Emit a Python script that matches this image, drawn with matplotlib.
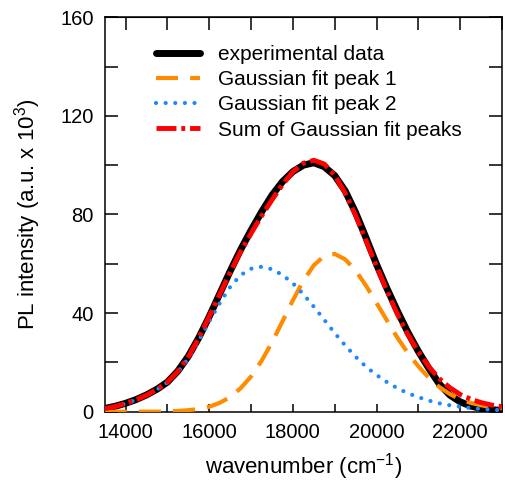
import numpy as np
import matplotlib
matplotlib.use("Agg")
import matplotlib.pyplot as plt
from matplotlib.ticker import MultipleLocator

plt.rcParams['font.family'] = ['Liberation Sans', 'DejaVu Sans']
plt.rcParams['mathtext.default'] = 'regular'

# wavenumber grid (cm^-1)
wavenumber = np.arange(13500, 23001, 250)

experimental = [1.3, 2.2, 3.4, 4.9, 6.8, 9.1, 12.0, 16.5, 22.5, 30.0,
                38.6, 47.8, 57.0, 65.7, 73.6, 81.0, 87.8, 93.3, 97.4, 100.0,
                101.0, 99.4, 95.8, 89.6, 80.8, 70.5, 59.8, 50.0, 40.8, 32.2,
                24.5, 17.6, 11.3, 6.8, 4.0, 2.3, 1.3, 0.8, 0.5]

peak1 = [0.0, 0.0, 0.0, 0.0, 0.0, 0.0, 0.1, 0.3, 0.6, 1.1,
         2.0, 3.6, 5.9, 9.5, 14.3, 20.6, 28.1, 36.6, 45.2, 53.1,
         59.4, 63.2, 64.0, 61.8, 57.3, 51.1, 44.1, 37.0, 30.0, 23.8,
         18.4, 13.8, 10.0, 7.2, 5.0, 3.6, 2.6, 1.9, 1.4]

peak2 = [1.2, 2.1, 3.3, 4.8, 6.7, 9.0, 11.9, 16.1, 21.6, 28.8,
         36.6, 44.0, 50.6, 55.4, 58.0, 58.8, 57.8, 55.5, 52.1, 47.7,
         42.6, 37.3, 31.9, 26.9, 22.3, 18.2, 14.9, 12.0, 9.5, 7.5,
         5.9, 4.5, 3.4, 2.6, 2.0, 1.5, 1.1, 0.8, 0.6]

fit_sum = [1.2, 2.1, 3.3, 4.8, 6.7, 9.0, 12.0, 16.4, 22.2, 29.9,
           38.6, 47.6, 56.5, 64.9, 72.3, 79.4, 85.9, 92.1, 97.3, 100.8,
           102.0, 100.5, 95.9, 88.7, 79.6, 69.3, 59.0, 49.0, 39.5, 31.3,
           24.3, 18.3, 13.4, 9.8, 7.0, 5.1, 3.7, 2.7, 2.0]

fig = plt.figure(figsize=(5.05, 4.86), dpi=100)
ax = fig.add_axes([0.2073, 0.1529, 0.7867, 0.8115])

ax.plot(wavenumber, experimental, color='black', lw=5, solid_capstyle='round',
        solid_joinstyle='round', label='experimental data', zorder=2)
ax.plot(wavenumber, peak1, color='#ff8c00', lw=3, linestyle=(0, (5.3, 2.9)),
        label='Gaussian fit peak 1', zorder=3)
ax.plot(wavenumber, peak2, color='#1e88ff', lw=3, linestyle=(0, (0.01, 2.3)),
        dash_capstyle='round', label='Gaussian fit peak 2', zorder=4)
ax.plot(wavenumber, fit_sum, color='#ff0000', lw=3.5,
        linestyle=(0, (4.1, 1.0, 0.8, 1.0)),
        label='Sum of Gaussian fit peaks', zorder=5)

ax.set_xlim(13500, 23000)
ax.set_ylim(0, 160)
ax.xaxis.set_major_locator(MultipleLocator(2000))
ax.xaxis.set_minor_locator(MultipleLocator(1000))
ax.yaxis.set_major_locator(MultipleLocator(40))
ax.yaxis.set_minor_locator(MultipleLocator(20))

for s in ax.spines.values():
    s.set_linewidth(1.1)

ax.tick_params(axis='x', which='both', direction='in', length=5.5, width=1.1,
               labelsize=14.5, pad=8, top=False)
ax.tick_params(axis='y', which='both', direction='in', length=9.5, width=1.1,
               labelsize=14.5, pad=8, right=True)

top = ax.secondary_xaxis('top')
top.xaxis.set_major_locator(MultipleLocator(1000))
top.tick_params(direction='in', length=9.5, width=1.1, labeltop=False)

ax.set_xlabel('wavenumber (cm$^{-1}$)', fontsize=16, labelpad=7)
ax.set_ylabel('PL intensity (a.u. x 10$^3$)', fontsize=16, labelpad=12)

ax.legend(loc='upper left', bbox_to_anchor=(0.13, 0.93), frameon=False,
          fontsize=15, handlelength=2.1, handletextpad=0.85,
          labelspacing=0.3, borderpad=0, borderaxespad=0)

fig.savefig('out.png', dpi=100)
